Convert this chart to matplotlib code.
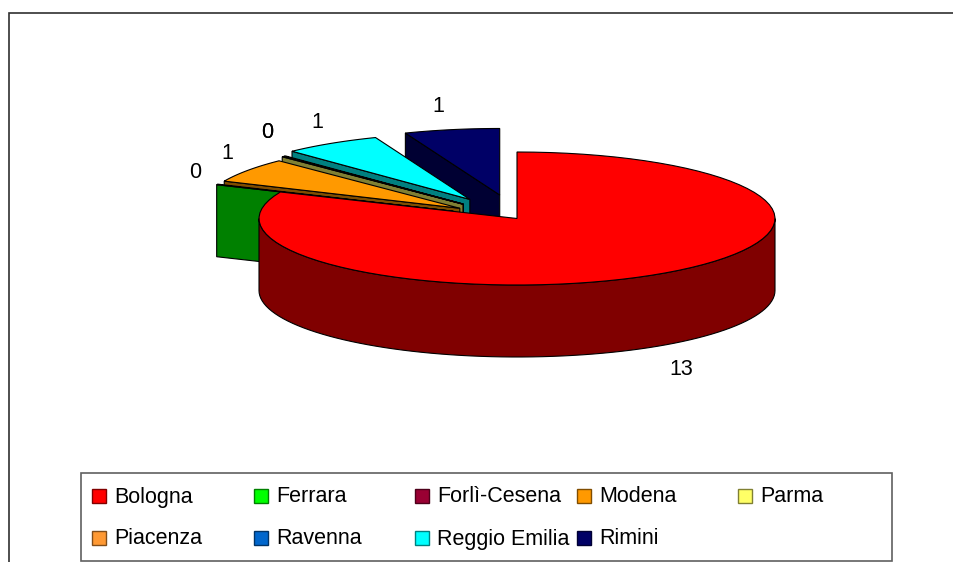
# -*- coding: utf-8 -*-
import numpy as np
import matplotlib
matplotlib.use('Agg')
import matplotlib.pyplot as plt
from matplotlib.patches import Polygon, Rectangle

categories = ['Bologna', 'Ferrara', 'Forlì-Cesena', 'Modena', 'Parma',
              'Piacenza', 'Ravenna', 'Reggio Emilia', 'Rimini']
values = [13, 0.025, 0, 0.95, 0.02, 0.02, 0, 0.98, 0.95]
top_colors = ['#FF0000', '#00FF00', '#990033', '#FF9900', '#FFFF66',
              '#FF9933', '#0066CC', '#00FFFF', '#000066']

# pie geometry, in pixels of the picture
CX, CY, RX, RY = 517, 218.5, 258, 66.5
DEPTH = 72
explode = [0, 0.27, 0.27, 0.27, 0.30, 0.30, 0.32, 0.34, 0.36]
# where the data labels sit
label_xy = [(681, 375), (195, 178), None, (227, 159), (267, 138),
            (267, 138), None, (317, 128), (438, 112)]

plt.rcParams['font.family'] = ['Liberation Sans', 'DejaVu Sans']

fig = plt.figure(figsize=(9.54, 5.62), dpi=100)
ax = fig.add_axes([0, 0, 1, 1])
ax.set_xlim(0, 954)
ax.set_ylim(562, 0)
ax.axis('off')


def ellipse_pts(a0, a1, cx, cy, n=80):
    a = np.radians(np.linspace(a0, a1, n))
    return np.column_stack((cx + RX*np.cos(a), cy - RY*np.sin(a)))


def draw_slice(a0, a1, expl, color, z):
    """one slice going clockwise from a0 down to a1 (degrees)"""
    mid = np.radians((a0 + a1)/2)
    cx = CX + expl*RX*np.cos(mid)
    cy = CY - expl*RY*np.sin(mid)
    arc = ellipse_pts(a0, a1, cx, cy)
    side = tuple(np.array(matplotlib.colors.to_rgb(color))*0.5)

    if expl == 0:
        # the big slice: only the front of the rim shows
        low = ellipse_pts(-180, 0, cx, cy)
    else:
        # exploded slices show the cut face on their lower edge
        low = np.array([[cx, cy], arc[0]])
    rim = np.vstack((low, (low + [0, DEPTH])[::-1]))
    ax.add_patch(Polygon(rim, closed=True, fc=side, ec='k', lw=0.8, zorder=z))
    ax.add_patch(Polygon(np.vstack(([cx, cy], arc)), closed=True, fc=color,
                         ec='k', lw=0.8, zorder=z + 0.5))


# angles go clockwise from 12 o'clock, Bologna first
total = sum(values)
angles = 90 - np.cumsum([0] + values)*360/total
for i in range(len(values) - 1, -1, -1):
    if values[i] > 0:
        draw_slice(angles[i], angles[i + 1], explode[i], top_colors[i],
                   len(values) - i)

for v, xy in zip(values, label_xy):
    if xy is not None:
        ax.text(xy[0], xy[1], str(int(round(v))), fontsize=15.5, color='k',
                ha='center', va='baseline', zorder=30)

# chart frame
ax.plot([9.5, 9.5, 954], [562, 12.5, 12.5], color='#303030', lw=1.2,
        solid_joinstyle='miter', zorder=1)

# legend box
ax.add_patch(Rectangle((81.5, 472.5), 811, 88, fc='white', ec='#606060',
                       lw=1.2, zorder=20))
leg_x = [92, 254, 415, 577, 738]
leg_y = [495.5, 537.5]
for i, name in enumerate(categories):
    x = leg_x[i % 5]
    y = leg_y[i // 5]
    edge = tuple(np.array(matplotlib.colors.to_rgb(top_colors[i]))*0.5)
    ax.add_patch(Rectangle((x, y - 7), 14, 14, fc=top_colors[i], ec=edge,
                           lw=1.0, zorder=21))
    ax.text(x + 22, y + 7, name, fontsize=15.5, color='k', va='baseline',
            zorder=22)

fig.savefig('out.png', dpi=100)
